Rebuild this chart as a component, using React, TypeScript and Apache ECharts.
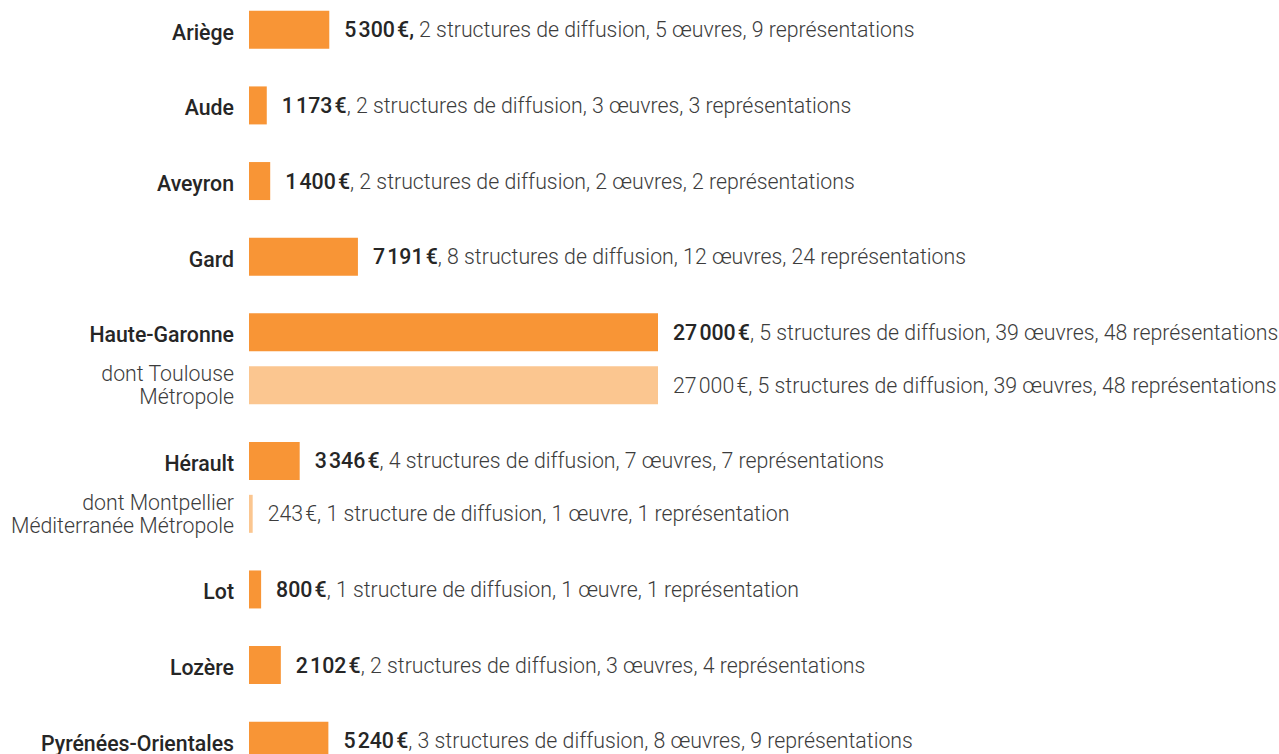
import React, { useEffect, useRef } from "react";
import * as echarts from "echarts";

// ---- Data ----
const names: string[] = [
  "Ariège",
  "Aude",
  "Aveyron",
  "Gard",
  "Haute-Garonne",
  "dont Toulouse\nMétropole",
  "Hérault",
  "dont Montpellier\nMéditerranée Métropole",
  "Lot",
  "Lozère",
  "Pyrénées-Orientales",
];
const isSub: boolean[] = [false, false, false, false, false, true, false, true, false, false, false];
const amounts: number[] = [5300, 1173, 1400, 7191, 27000, 27000, 3346, 243, 800, 2102, 5240];
const structures: number[] = [2, 2, 2, 8, 5, 5, 4, 1, 1, 2, 3];
const oeuvres: number[] = [5, 3, 2, 12, 39, 39, 7, 1, 1, 3, 8];
const representations: number[] = [9, 3, 2, 24, 48, 48, 7, 1, 1, 4, 9];
const boldCommaRows: string[] = ["Ariège"];

// ---- Helpers ----
const HAIR = "\u200A";
const fmtAmount = (v: number) =>
  String(v).replace(/\B(?=(\d{3})+(?!\d))/g, HAIR) + HAIR + "€";
const plural = (n: number, word: string) => `${n} ${word}${n > 1 ? "s" : ""}`;
const detail = (i: number) =>
  `${plural(structures[i], "structure")} de diffusion, ${plural(oeuvres[i], "œuvre")}, ${plural(
    representations[i],
    "représentation"
  )}`;

const GAP_MAIN = 10;
const GAP_SUB = 7;

const MAIN_COLOR = "#F89536";
const SUB_COLOR = "#FBC690";
const FONT = "Roboto, sans-serif";
const FS = 21.3;

export default function App() {
  const ref = useRef<HTMLDivElement>(null);

  useEffect(() => {
    if (!ref.current) return;
    const chart = echarts.init(ref.current, undefined, { renderer: "svg" });

    const cats: string[] = [];
    const labelOf: Record<string, string> = {};
    const barData: any[] = [];
    let spacer = 0;
    names.forEach((name, i) => {
      if (i > 0) {
        const gap = isSub[i] ? GAP_SUB : GAP_MAIN;
        for (let k = 0; k < gap - 1; k++) {
          const key = `__sp${spacer++}`;
          cats.push(key);
          labelOf[key] = "";
          barData.push("-");
        }
      }
      const key = `row${i}`;
      cats.push(key);
      labelOf[key] = isSub[i]
        ? name
            .split("\n")
            .map((l) => `{s|${l}}`)
            .join("\n")
        : `{m|${name}}`;
      const sub = isSub[i];
      const boldComma = boldCommaRows.includes(name);
      const rest = detail(i);
      const text = sub
        ? `{n|${fmtAmount(amounts[i])}, ${rest}}`
        : boldComma
        ? `{b|${fmtAmount(amounts[i])},}{n| ${rest}}`
        : `{b|${fmtAmount(amounts[i])}}{n|, ${rest}}`;
      barData.push({
        value: amounts[i],
        itemStyle: { color: sub ? SUB_COLOR : MAIN_COLOR },
        label: { formatter: text },
      });
    });

    chart.setOption({
      animation: false,
      grid: { left: 249, width: 409, top: 26, height: 718.5, containLabel: false },
      xAxis: {
        type: "value",
        min: 0,
        max: 27000,
        show: false,
      },
      yAxis: {
        type: "category",
        inverse: true,
        data: cats,
        axisLine: { show: false },
        axisTick: { show: false },
        splitLine: { show: false },
        axisLabel: {
          interval: 0,
          margin: 15,
          align: "right",
          verticalAlign: "middle",
          formatter: (v: string) => labelOf[v] ?? "",
          rich: {
            m: {
              fontFamily: FONT,
              fontSize: FS,
              fontWeight: 500,
              color: "#262626",
              lineHeight: 21,
              padding: [5, 0, 0, 0],
            },
            s: {
              fontFamily: FONT,
              fontSize: FS,
              fontWeight: 300,
              color: "#3c3c3c",
              lineHeight: 23,
            },
          },
        },
      },
      series: [
        {
          type: "bar",
          data: barData,
          barWidth: 38,
          clip: false,
          label: {
            show: true,
            position: "right",
            distance: 15,
            rich: {
              b: {
                fontFamily: FONT,
                fontSize: FS,
                fontWeight: 500,
                color: "#262626",
              },
              n: {
                fontFamily: FONT,
                fontSize: FS,
                fontWeight: 300,
                color: "#3c3c3c",
              },
            },
          },
        },
      ],
    });

    return () => chart.dispose();
  }, []);

  return (
    <div
      ref={ref}
      style={{ position: "absolute", left: 0, top: 0, width: 1279, height: 754, background: "#fff" }}
    />
  );
}
